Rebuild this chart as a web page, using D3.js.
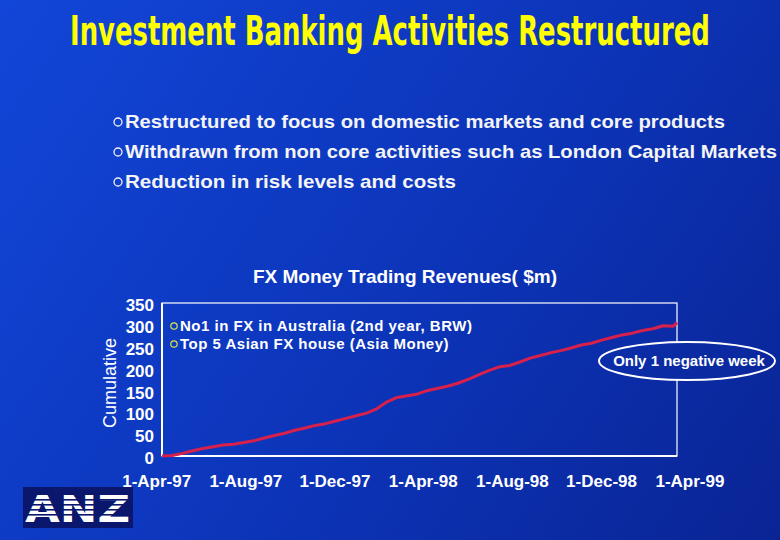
<!DOCTYPE html>
<html><head><meta charset="utf-8">
<script src="https://cdn.jsdelivr.net/npm/d3@7"></script>
<style>
html,body{margin:0;padding:0;background:#0c35c0;}
svg{display:block;}
text{font-family:"Liberation Sans",Arial,Helvetica,sans-serif;}
</style></head>
<body>
<script>
// ---------- data ----------
const pageTitle = "Investment Banking Activities Restructured";
const bullets = [
  "Restructured to focus on domestic markets and core products",
  "Withdrawn from non core activities such as London Capital Markets",
  "Reduction in risk levels and costs"
];
const chartTitle = "FX Money Trading Revenues( $m)";
const yLabel = "Cumulative";
const notes = ["No1 in FX in Australia (2nd year, BRW)", "Top 5 Asian FX house (Asia Money)"];
const callout = "Only 1 negative week";
const dates = [
  "1997-04-09","1997-04-23","1997-05-07","1997-05-21","1997-06-04","1997-06-18","1997-07-02","1997-07-16",
  "1997-07-30","1997-08-13","1997-08-27","1997-09-10","1997-09-24","1997-10-08","1997-10-22","1997-11-05",
  "1997-11-19","1997-12-03","1997-12-17","1997-12-31","1998-01-14","1998-01-28","1998-02-11","1998-02-25",
  "1998-03-11","1998-03-25","1998-04-08","1998-04-22","1998-05-06","1998-05-20","1998-06-03","1998-06-17",
  "1998-07-01","1998-07-15","1998-07-29","1998-08-12","1998-08-26","1998-09-09","1998-09-23","1998-10-07",
  "1998-10-21","1998-11-04","1998-11-18","1998-12-02","1998-12-16","1998-12-30","1999-01-13","1999-01-27",
  "1999-02-10","1999-02-24","1999-03-10","1999-03-15"
];
const cumulative = [
  0, 1, 6, 12, 17, 21, 25, 27,
  31, 35, 41, 47, 52, 59, 64, 70,
  74, 80, 86, 92, 98, 108, 124, 134,
  138, 142, 150, 155, 160, 167, 176, 186,
  196, 204, 207, 215, 224, 230, 236, 241,
  247, 254, 258, 265, 271, 277, 281, 287,
  291, 298, 297, 305
];
const xTickDates = ["1997-04-01","1997-08-01","1997-12-01","1998-04-01","1998-08-01","1998-12-01","1999-04-01"];
const yTicks = [0, 50, 100, 150, 200, 250, 300, 350];

// ---------- drawing ----------
const W = 780, H = 540;
const parse = d3.timeParse("%Y-%m-%d");
const fmt = d3.timeFormat("%-d-%b-%y");
const series = dates.map((d, i) => ({date: parse(d), value: cumulative[i]}));

const svg = d3.select("body").append("svg").attr("width", W).attr("height", H);
const defs = svg.append("defs");
const grad = defs.append("linearGradient").attr("id", "bg")
  .attr("gradientUnits", "userSpaceOnUse").attr("x1", 0).attr("y1", 0).attr("x2", W).attr("y2", H);
grad.append("stop").attr("offset", "0%").attr("stop-color", "#1246d8");
grad.append("stop").attr("offset", "55%").attr("stop-color", "#0c34b8");
grad.append("stop").attr("offset", "100%").attr("stop-color", "#0a2494");
svg.append("rect").attr("width", W).attr("height", H).attr("fill", "url(#bg)");

// title (condensed, tall) – scaled to fit its measured width
const titleG = svg.append("g");
const titleT = titleG.append("text").attr("x", 0).attr("y", 0)
  .style("font-family", "'Liberation Sans Narrow','DejaVu Sans Condensed','Liberation Sans',sans-serif")
  .attr("font-size", 33).attr("font-weight", "bold").attr("fill", "#ffff00")
  .text(pageTitle);
const tw = titleT.node().getComputedTextLength();
titleG.attr("transform", `translate(70,45) scale(${640 / tw},1.25)`);

// bullets
const bulletW = [600, 652, 331];
bullets.forEach((b, i) => {
  const y = 121 + i * 30;
  svg.append("circle").attr("cx", 118).attr("cy", y + 1).attr("r", 4)
    .attr("fill", "none").attr("stroke", "#f2f2f2").attr("stroke-width", 1.3);
  svg.append("text").attr("x", 125).attr("y", y + 7)
    .attr("textLength", bulletW[i]).attr("lengthAdjust", "spacingAndGlyphs")
    .attr("font-size", 19).attr("font-weight", "bold").attr("fill", "#f4f4f4").text(b);
});

// chart
const m = {left: 162, right: 677, top: 303, bottom: 456};
const x = d3.scaleTime().domain([parse("1997-04-09"), parse("1999-03-15")]).range([m.left, m.right]);
const y = d3.scaleLinear().domain([0, 350]).range([m.bottom, m.top]);

svg.append("text").attr("x", 405).attr("y", 283).attr("text-anchor", "middle")
  .attr("font-size", 19).attr("font-weight", "bold").attr("fill", "#ffffff").text(chartTitle);

svg.append("text").attr("transform", `translate(116,383) rotate(-90)`).attr("text-anchor", "middle")
  .attr("font-size", 18).attr("fill", "#ffffff").text(yLabel);

// frame
svg.append("rect").attr("x", m.left).attr("y", m.top).attr("width", m.right - m.left).attr("height", m.bottom - m.top)
  .attr("fill", "none").attr("stroke", "#ffffff").attr("stroke-width", 1.2);
svg.append("line").attr("x1", m.left).attr("x2", m.left).attr("y1", m.top).attr("y2", m.bottom)
  .attr("stroke", "#fff").attr("stroke-width", 2);
svg.append("line").attr("x1", m.left).attr("x2", m.right).attr("y1", m.bottom).attr("y2", m.bottom)
  .attr("stroke", "#fff").attr("stroke-width", 2);

const yAxis = svg.append("g").attr("transform", `translate(${m.left},0)`)
  .call(d3.axisLeft(y).tickValues(yTicks).tickSize(0).tickPadding(8));
yAxis.select(".domain").remove();
yAxis.selectAll("text").attr("font-size", 17).attr("font-weight", "bold").attr("fill", "#fff")
  .style("font-family", "'Liberation Sans',Arial,sans-serif").attr("dy", "0.45em");

const xAxis = svg.append("g").attr("transform", `translate(0,${m.bottom})`)
  .call(d3.axisBottom(x).tickValues(xTickDates.map(parse)).tickFormat(fmt).tickSize(0).tickPadding(19));
xAxis.select(".domain").remove();
xAxis.selectAll("text").attr("font-size", 17).attr("font-weight", "bold").attr("fill", "#fff")
  .style("font-family", "'Liberation Sans',Arial,sans-serif");

// line
svg.append("path").datum(series)
  .attr("d", d3.line().x(d => x(d.date)).y(d => y(d.value)))
  .attr("fill", "none").attr("stroke", "#d8204c").attr("stroke-width", 3).attr("stroke-linejoin", "round");

// notes
notes.forEach((t, i) => {
  const yy = 325 + i * 18;
  svg.append("circle").attr("cx", 174).attr("cy", yy + 1).attr("r", 3.2)
    .attr("fill", "none").attr("stroke", "#d8e840").attr("stroke-width", 1.2);
  svg.append("text").attr("x", 180).attr("y", yy + 6).attr("font-size", 15).attr("font-weight", "bold")
    .attr("letter-spacing", 0.5).attr("fill", "#fff").text(t);
});

// callout ellipse
svg.append("ellipse").attr("cx", 687).attr("cy", 361).attr("rx", 88).attr("ry", 19)
  .attr("fill", "url(#bg)").attr("stroke", "#fff").attr("stroke-width", 2);
svg.append("text").attr("x", 689).attr("y", 366).attr("text-anchor", "middle")
  .attr("font-size", 15).attr("font-weight", "bold").attr("fill", "#fff").text(callout);

// ANZ logo
const logo = svg.append("g");
logo.append("rect").attr("x", 23).attr("y", 487).attr("width", 110).attr("height", 41).attr("fill", "#0a176c");
logo.append("text").attr("x", 25).attr("y", 522).attr("textLength", 105).attr("lengthAdjust", "spacingAndGlyphs")
  .attr("font-size", 37).attr("font-weight", "bold").attr("fill", "#fff")
  .style("font-family", "'DejaVu Sans','Liberation Sans',sans-serif").text("ANZ");
[499, 504, 509, 514].forEach(yy => {
  logo.append("rect").attr("x", 23).attr("y", yy).attr("width", 110).attr("height", 1.6).attr("fill", "#0a176c");
});
</script>
</body></html>
